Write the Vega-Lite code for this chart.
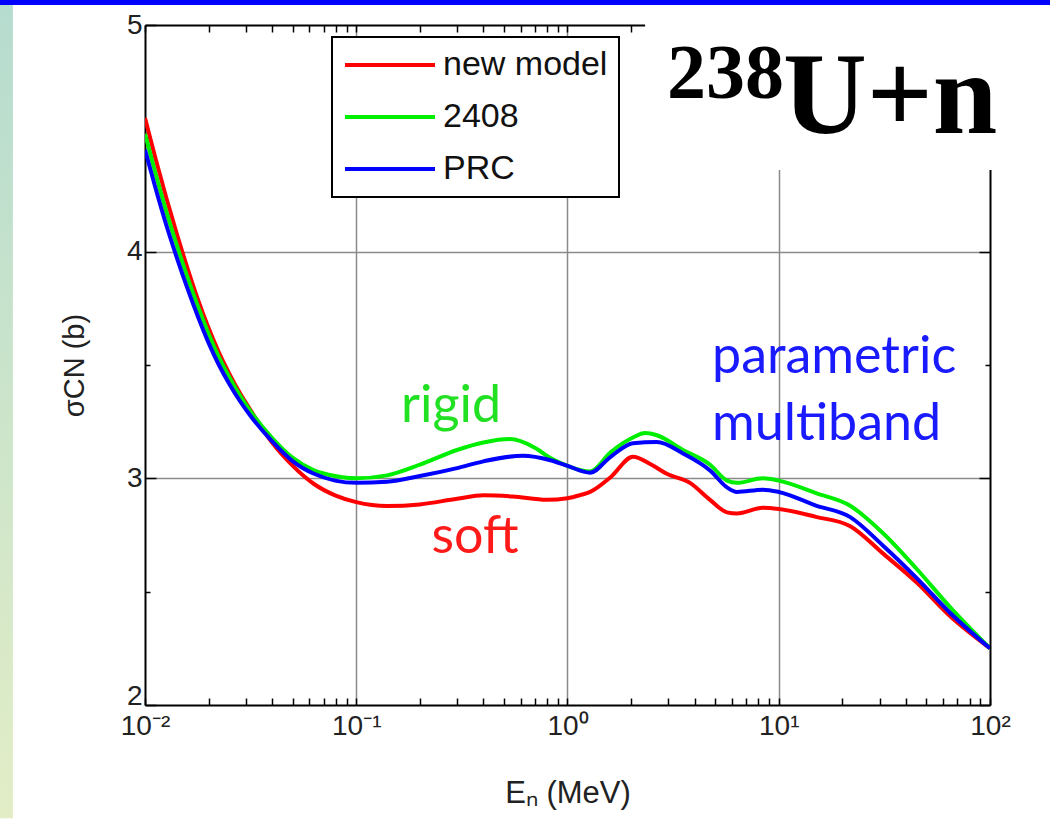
{
  "$schema": "https://vega.github.io/schema/vega-lite/v6.json",
  "autosize": {"type": "none"},
  "width": 845,
  "height": 680,
  "padding": {"left": 145, "top": 25, "right": 60, "bottom": 127},
  "background": "#ffffff",
  "config": {"view": {"stroke": null}},
  "datasets": {
    "curves": [
      {"series": "new model", "E": 0.01, "s": 4.59},
      {"series": "new model", "E": 0.01122, "s": 4.41},
      {"series": "new model", "E": 0.01259, "s": 4.24},
      {"series": "new model", "E": 0.01413, "s": 4.08},
      {"series": "new model", "E": 0.01585, "s": 3.93},
      {"series": "new model", "E": 0.01778, "s": 3.79},
      {"series": "new model", "E": 0.01995, "s": 3.665},
      {"series": "new model", "E": 0.02239, "s": 3.555},
      {"series": "new model", "E": 0.02512, "s": 3.46},
      {"series": "new model", "E": 0.02818, "s": 3.375},
      {"series": "new model", "E": 0.03162, "s": 3.3},
      {"series": "new model", "E": 0.0398, "s": 3.16},
      {"series": "new model", "E": 0.0501, "s": 3.055},
      {"series": "new model", "E": 0.0631, "s": 2.975},
      {"series": "new model", "E": 0.0794, "s": 2.925},
      {"series": "new model", "E": 0.1, "s": 2.895},
      {"series": "new model", "E": 0.14, "s": 2.878},
      {"series": "new model", "E": 0.2, "s": 2.885},
      {"series": "new model", "E": 0.3, "s": 2.91},
      {"series": "new model", "E": 0.4, "s": 2.925},
      {"series": "new model", "E": 0.55, "s": 2.92},
      {"series": "new model", "E": 0.8, "s": 2.905},
      {"series": "new model", "E": 1.0, "s": 2.912},
      {"series": "new model", "E": 1.15, "s": 2.926},
      {"series": "new model", "E": 1.28, "s": 2.94},
      {"series": "new model", "E": 1.6, "s": 3.005},
      {"series": "new model", "E": 2.04, "s": 3.095},
      {"series": "new model", "E": 2.5, "s": 3.06},
      {"series": "new model", "E": 2.95, "s": 3.02},
      {"series": "new model", "E": 3.8, "s": 2.98},
      {"series": "new model", "E": 4.73, "s": 2.905},
      {"series": "new model", "E": 5.69, "s": 2.85},
      {"series": "new model", "E": 6.34, "s": 2.845},
      {"series": "new model", "E": 8.4, "s": 2.87},
      {"series": "new model", "E": 10, "s": 2.865},
      {"series": "new model", "E": 15, "s": 2.83},
      {"series": "new model", "E": 21.7, "s": 2.79},
      {"series": "new model", "E": 31, "s": 2.67},
      {"series": "new model", "E": 45, "s": 2.54},
      {"series": "new model", "E": 65, "s": 2.39},
      {"series": "new model", "E": 100, "s": 2.25},
      {"series": "2408", "E": 0.01, "s": 4.52},
      {"series": "2408", "E": 0.01122, "s": 4.345},
      {"series": "2408", "E": 0.01259, "s": 4.18},
      {"series": "2408", "E": 0.01413, "s": 4.03},
      {"series": "2408", "E": 0.01585, "s": 3.89},
      {"series": "2408", "E": 0.01778, "s": 3.76},
      {"series": "2408", "E": 0.01995, "s": 3.64},
      {"series": "2408", "E": 0.02239, "s": 3.535},
      {"series": "2408", "E": 0.02512, "s": 3.445},
      {"series": "2408", "E": 0.02818, "s": 3.365},
      {"series": "2408", "E": 0.03162, "s": 3.295},
      {"series": "2408", "E": 0.0398, "s": 3.18},
      {"series": "2408", "E": 0.0501, "s": 3.09},
      {"series": "2408", "E": 0.0631, "s": 3.035},
      {"series": "2408", "E": 0.0794, "s": 3.01},
      {"series": "2408", "E": 0.1, "s": 3.0},
      {"series": "2408", "E": 0.14, "s": 3.013},
      {"series": "2408", "E": 0.2, "s": 3.06},
      {"series": "2408", "E": 0.3, "s": 3.125},
      {"series": "2408", "E": 0.4, "s": 3.158},
      {"series": "2408", "E": 0.535, "s": 3.173},
      {"series": "2408", "E": 0.7, "s": 3.135},
      {"series": "2408", "E": 0.83, "s": 3.09},
      {"series": "2408", "E": 1.0, "s": 3.055},
      {"series": "2408", "E": 1.28, "s": 3.03},
      {"series": "2408", "E": 1.6, "s": 3.115},
      {"series": "2408", "E": 2.04, "s": 3.18},
      {"series": "2408", "E": 2.33, "s": 3.2},
      {"series": "2408", "E": 2.65, "s": 3.19},
      {"series": "2408", "E": 3.52, "s": 3.125},
      {"series": "2408", "E": 4.73, "s": 3.06},
      {"series": "2408", "E": 5.69, "s": 2.99},
      {"series": "2408", "E": 6.34, "s": 2.98},
      {"series": "2408", "E": 8.4, "s": 3.0},
      {"series": "2408", "E": 10, "s": 2.99},
      {"series": "2408", "E": 15, "s": 2.935},
      {"series": "2408", "E": 21.7, "s": 2.88},
      {"series": "2408", "E": 31, "s": 2.76},
      {"series": "2408", "E": 45, "s": 2.6},
      {"series": "2408", "E": 65, "s": 2.43},
      {"series": "2408", "E": 100, "s": 2.25},
      {"series": "PRC", "E": 0.01, "s": 4.45},
      {"series": "PRC", "E": 0.01122, "s": 4.28},
      {"series": "PRC", "E": 0.01259, "s": 4.12},
      {"series": "PRC", "E": 0.01413, "s": 3.975},
      {"series": "PRC", "E": 0.01585, "s": 3.84},
      {"series": "PRC", "E": 0.01778, "s": 3.715},
      {"series": "PRC", "E": 0.01995, "s": 3.6},
      {"series": "PRC", "E": 0.02239, "s": 3.5},
      {"series": "PRC", "E": 0.02512, "s": 3.415},
      {"series": "PRC", "E": 0.02818, "s": 3.34},
      {"series": "PRC", "E": 0.03162, "s": 3.275},
      {"series": "PRC", "E": 0.0398, "s": 3.165},
      {"series": "PRC", "E": 0.0501, "s": 3.075},
      {"series": "PRC", "E": 0.0631, "s": 3.02},
      {"series": "PRC", "E": 0.0794, "s": 2.99},
      {"series": "PRC", "E": 0.1, "s": 2.98},
      {"series": "PRC", "E": 0.14, "s": 2.985},
      {"series": "PRC", "E": 0.2, "s": 3.01},
      {"series": "PRC", "E": 0.3, "s": 3.045},
      {"series": "PRC", "E": 0.4, "s": 3.075},
      {"series": "PRC", "E": 0.615, "s": 3.1},
      {"series": "PRC", "E": 0.83, "s": 3.08},
      {"series": "PRC", "E": 1.0, "s": 3.055},
      {"series": "PRC", "E": 1.28, "s": 3.025},
      {"series": "PRC", "E": 1.6, "s": 3.095},
      {"series": "PRC", "E": 2.04, "s": 3.155},
      {"series": "PRC", "E": 2.65, "s": 3.16},
      {"series": "PRC", "E": 3.52, "s": 3.11},
      {"series": "PRC", "E": 4.73, "s": 3.035},
      {"series": "PRC", "E": 5.69, "s": 2.96},
      {"series": "PRC", "E": 6.34, "s": 2.94},
      {"series": "PRC", "E": 8.4, "s": 2.95},
      {"series": "PRC", "E": 10, "s": 2.94},
      {"series": "PRC", "E": 15, "s": 2.88},
      {"series": "PRC", "E": 21.7, "s": 2.83},
      {"series": "PRC", "E": 31, "s": 2.705},
      {"series": "PRC", "E": 45, "s": 2.56},
      {"series": "PRC", "E": 65, "s": 2.405},
      {"series": "PRC", "E": 100, "s": 2.25}
    ]
  },
  "resolve": {"axis": {"x": "independent", "y": "independent"}},
  "layer": [
    {
      "data": {"name": "curves"},
      "mark": {"type": "line", "strokeWidth": 4, "interpolate": "monotone", "clip": true},
      "encoding": {
        "x": {
          "field": "E", "type": "quantitative",
          "scale": {"type": "log", "domain": [0.01, 100], "nice": false},
          "axis": {
            "orient": "bottom",
            "values": [0.01,0.02,0.03,0.04,0.05,0.06,0.07,0.08,0.09,0.1,0.2,0.3,0.4,0.5,0.6,0.7,0.8,0.9,1,2,3,4,5,6,7,8,9,10,20,30,40,50,60,70,80,90,100],
            "labelExpr": "datum.value==0.01?'10⁻²':datum.value==0.1?'10⁻¹':datum.value==1?'10⁰':datum.value==10?'10¹':datum.value==100?'10²':''",
            "tickSize": -7, "tickWidth": 1.5, "tickColor": "#000",
            "domainColor": "#000", "domainWidth": 2,
            "grid": true, "gridColor": "#8a8a8a", "gridWidth": 1.5,
            "gridOpacity": {"condition": {"test": "datum.value==0.1||datum.value==1||datum.value==10", "value": 1}, "value": 0},
            "labelFont": "Liberation Sans", "labelFontSize": 28, "labelColor": "#222",
            "labelPadding": 14, "labelFlush": false, "labelOverlap": false, "labelBound": false,
            "title": "Eₙ (MeV)", "titleFont": "Liberation Sans", "titleFontSize": 31,
            "titleFontWeight": "normal", "titleColor": "#222", "titlePadding": 38
          }
        },
        "y": {
          "field": "s", "type": "quantitative",
          "scale": {"domain": [2, 5], "nice": false, "zero": false},
          "axis": {
            "orient": "left",
            "values": [2, 2.5, 3, 3.5, 4, 4.5, 5],
            "format": "~g",
            "labelExpr": "datum.value % 1 === 0 ? datum.label : ''",
            "tickSize": {"condition": {"test": "datum.value % 1 === 0", "value": -11}, "value": -5},
            "tickWidth": 1.5, "tickColor": "#000",
            "domainColor": "#000", "domainWidth": 2,
            "grid": true, "gridColor": "#8a8a8a", "gridWidth": 1.5,
            "gridOpacity": {"condition": {"test": "datum.value==3||datum.value==4", "value": 1}, "value": 0},
            "labelFont": "Liberation Sans", "labelFontSize": 28, "labelColor": "#222",
            "labelPadding": 14, "labelOverlap": false, "labelFlush": false, "labelBound": false,
            "labelOffset": {"condition": {"test": "datum.value == 2", "value": -9}, "value": 0},
            "title": "σCN (b)", "titleFont": "Liberation Sans", "titleFontSize": 29,
            "titleFontWeight": "normal", "titleColor": "#222", "titlePadding": 37
          }
        },
        "color": {
          "field": "series", "type": "nominal",
          "scale": {"domain": ["new model", "2408", "PRC"], "range": ["#ff0000", "#00ee00", "#0000ff"]},
          "legend": {
            "orient": "none", "legendX": 187, "legendY": 12, "title": null,
            "strokeColor": "#000", "fillColor": "#ffffff",
            "padding": 11, "rowPadding": 18, "clipHeight": 34,
            "symbolType": "stroke", "symbolSize": 8100, "symbolStrokeWidth": 4,
            "labelFont": "Liberation Sans", "labelFontSize": 34, "labelColor": "#111",
            "labelOffset": 6, "labelLimit": 400,
            "encode": {"legend": {"update": {"strokeWidth": {"value": 2}}}}
          }
        }
      }
    },
    {
      "data": {"values": [{}]},
      "mark": {"type": "rect", "color": "#ffffff", "clip": false},
      "encoding": {
        "x": {
          "datum": 2.33, "type": "quantitative",
          "scale": {"type": "log", "domain": [0.01, 100], "nice": false},
          "axis": {
            "orient": "top",
            "values": [0.01,0.02,0.03,0.04,0.05,0.06,0.07,0.08,0.09,0.1,0.2,0.3,0.4,0.5,0.6,0.7,0.8,0.9,1,2,3,4,5,6,7,8,9,10,20,30,40,50,60,70,80,90,100],
            "labels": false, "title": null, "grid": false,
            "tickSize": -7, "tickWidth": 1.5, "tickColor": "#000",
            "domainColor": "#000", "domainWidth": 2
          }
        },
        "x2": {"datum": 500},
        "y": {
          "datum": 4.36, "type": "quantitative",
          "scale": {"domain": [2, 5], "nice": false, "zero": false},
          "axis": {
            "orient": "right",
            "values": [2, 2.5, 3, 3.5, 4, 4.5, 5],
            "labels": false, "title": null, "grid": false,
            "tickSize": {"condition": {"test": "datum.value % 1 === 0", "value": -11}, "value": -5},
            "tickWidth": 1.5, "tickColor": "#000",
            "domainColor": "#000", "domainWidth": 2
          }
        },
        "y2": {"datum": 5.3}
      }
    },
    {
      "data": {"values": [{}]},
      "mark": {"type": "rect", "color": "#0000ff", "clip": false},
      "encoding": {
        "x": {"datum": 0.0005, "type": "quantitative", "axis": null},
        "x2": {"datum": 1000},
        "y": {"datum": 5.088, "type": "quantitative", "axis": null},
        "y2": {"datum": 5.4}
      }
    },
    {
      "data": {"values": [{}]},
      "mark": {
        "type": "rect", "clip": false,
        "color": {"gradient": "linear", "x1": 0, "y1": 0, "x2": 0, "y2": 1,
          "stops": [{"offset": 0, "color": "#b6dccf"}, {"offset": 1, "color": "#e2edc6"}]}
      },
      "encoding": {
        "x": {"datum": 0.0005, "type": "quantitative", "axis": null},
        "x2": {"datum": 0.00237},
        "y": {"datum": 1.5, "type": "quantitative", "axis": null},
        "y2": {"datum": 5.088}
      }
    },
    {
      "data": {"values": [{}]},
      "mark": {"type": "text", "text": "rigid", "font": "Lato", "fontSize": 52, "color": "#22e022", "align": "center", "baseline": "alphabetic", "clip": false},
      "encoding": {"x": {"datum": 0.281, "type": "quantitative", "axis": null}, "y": {"datum": 3.249, "type": "quantitative", "axis": null}}
    },
    {
      "data": {"values": [{}]},
      "mark": {"type": "text", "text": "soft", "font": "Lato", "fontSize": 52, "color": "#ff1a1a", "align": "center", "baseline": "alphabetic", "clip": false},
      "encoding": {"x": {"datum": 0.365, "type": "quantitative", "axis": null}, "y": {"datum": 2.671, "type": "quantitative", "axis": null}}
    },
    {
      "data": {"values": [{}]},
      "mark": {"type": "text", "text": "parametric", "font": "Lato", "fontSize": 52, "color": "#1a1aff", "align": "left", "baseline": "alphabetic", "clip": false},
      "encoding": {"x": {"datum": 4.83, "type": "quantitative", "axis": null}, "y": {"datum": 3.465, "type": "quantitative", "axis": null}}
    },
    {
      "data": {"values": [{}]},
      "mark": {"type": "text", "text": "multiband", "font": "Lato", "fontSize": 52, "color": "#1a1aff", "align": "left", "baseline": "alphabetic", "clip": false},
      "encoding": {"x": {"datum": 4.83, "type": "quantitative", "axis": null}, "y": {"datum": 3.169, "type": "quantitative", "axis": null}}
    },
    {
      "data": {"values": [{}]},
      "mark": {"type": "text", "text": "238", "font": "Liberation Serif", "fontWeight": "bold", "fontSize": 78, "color": "#000", "align": "left", "baseline": "alphabetic", "clip": false},
      "encoding": {"x": {"datum": 2.96, "type": "quantitative", "axis": null}, "y": {"datum": 4.678, "type": "quantitative", "axis": null}}
    },
    {
      "data": {"values": [{}]},
      "mark": {"type": "text", "text": "U+n", "font": "Liberation Serif", "fontWeight": "bold", "fontSize": 116, "color": "#000", "align": "left", "baseline": "alphabetic", "clip": false},
      "encoding": {"x": {"datum": 10.47, "type": "quantitative", "axis": null}, "y": {"datum": 4.524, "type": "quantitative", "axis": null}}
    }
  ]
}
